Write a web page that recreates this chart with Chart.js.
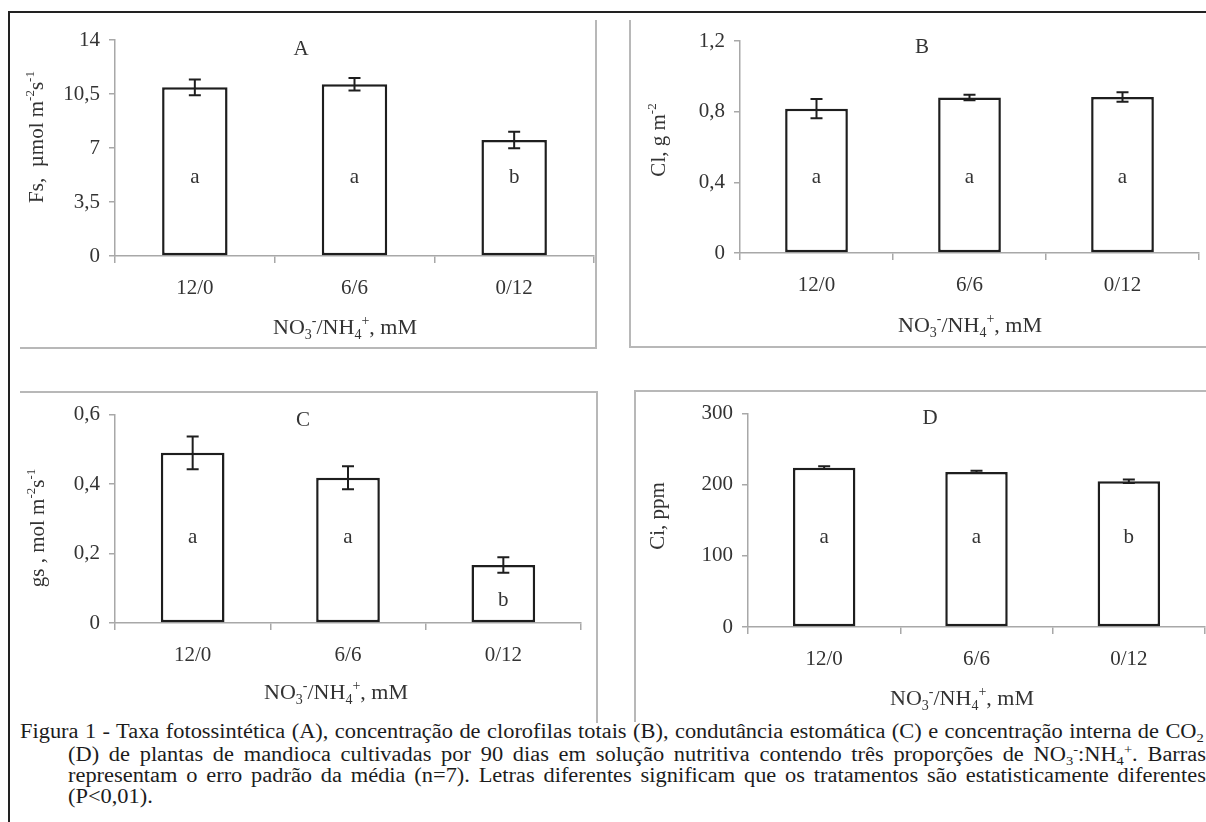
<!DOCTYPE html>
<html>
<head>
<meta charset="utf-8">
<script src="https://cdn.jsdelivr.net/npm/chart.js@4.4.0/dist/chart.umd.min.js"></script>
<style>
html, body { margin: 0; padding: 0; background: #fff; overflow: hidden; }
body { width: 1206px; height: 822px; position: relative; font-family: "Liberation Serif", "Times New Roman", serif; }
#frame { position: absolute; left: 8px; top: 11px; width: 1300px; height: 900px; border-top: 2px solid #222; border-left: 2px solid #222; }
.box { position: absolute; border: 0 solid #b8b8b8; }
canvas { position: absolute; }
.cap { position: absolute; font-size: 20px; line-height: 21.5px; color: #1c1c1c; text-align: justify; text-align-last: justify; white-space: nowrap; transform: scaleX(1.12); transform-origin: 0 0; }
.cap.last { text-align-last: left; }
.cap sub, .cap sup { font-size: 13px; line-height: 0; }
.cap sub { vertical-align: -4px; }
.cap sup { vertical-align: 7px; }
</style>
</head>
<body>
<div id="frame"></div>
<div class="box" style="left:20px;top:20px;width:575px;height:327px;border-right-width:2px;border-bottom-width:2px;"></div>
<div class="box" style="left:629px;top:20px;width:600px;height:326px;border-left-width:2px;border-bottom-width:2px;"></div>
<div class="box" style="left:20px;top:391px;width:576px;height:330px;border-top-width:2px;border-right-width:2px;"></div>
<div class="box" style="left:634px;top:390px;width:600px;height:330px;border-top-width:2px;border-left-width:2px;"></div>

<div class="cap" style="left:20px;top:721px;width:1057px;">Figura 1 - Taxa fotossintética (A), concentração de clorofilas totais (B), condutância estomática (C) e concentração interna de CO<sub>2</sub></div>
<div class="cap" style="left:68px;top:744px;width:1016px;">(D) de plantas de mandioca cultivadas por 90 dias em solução nutritiva contendo três proporções de NO<sub>3</sub><sup>-</sup>:NH<sub>4</sub><sup>+</sup>. Barras</div>
<div class="cap" style="left:68px;top:765px;width:1016px;">representam o erro padrão da média (n=7). Letras diferentes significam que os tratamentos são estatisticamente diferentes</div>
<div class="cap last" style="left:68px;top:786px;width:1016px;">(P&lt;0,01).</div>

<script>
// categories (NO3-/NH4+ ratio, mM)
const categories = ['12/0', '6/6', '0/12'];

// A - Fs, photosynthetic rate
const fsValues = [10.93, 11.13, 7.52];
const fsErrors = [0.51, 0.40, 0.53];
const fsLetters = ['a', 'a', 'b'];
const fsTicks = [0, 3.5, 7, 10.5, 14];

// B - Cl, total chlorophyll
const clValues = [0.817, 0.880, 0.883];
const clErrors = [0.054, 0.016, 0.027];
const clLetters = ['a', 'a', 'a'];
const clTicks = [0, 0.4, 0.8, 1.2];

// C - gs, stomatal conductance
const gsValues = [0.490, 0.418, 0.167];
const gsErrors = [0.047, 0.033, 0.022];
const gsLetters = ['a', 'a', 'b'];
const gsTicks = [0, 0.2, 0.4, 0.6];

// D - Ci, internal CO2
const ciValues = [224, 218, 205];
const ciErrors = [2, 1.5, 2.5];
const ciLetters = ['a', 'a', 'b'];
const ciTicks = [0, 100, 200, 300];

const FONT = '"Liberation Serif", "Times New Roman", serif';
const TEXT = '#333';
const AXIS = '#a8a8a8';

const xTitle = [['NO', 0], ['3', -1], ['-', 1], ['/NH', 0], ['4', -1], ['+', 1], [', mM', 0]];

const panels = [
    { values: fsValues, errors: fsErrors, letters: fsLetters, ticks: fsTicks,
      box: [10, 14, 586, 334], area: [115, 40, 594, 256], letterAt: [5.12, 5.12, 5.12],
      tag: ['A', 301, 49], yTitle: [['Fs,  µmol m', 0], ['-2', 1], ['s', 0], ['-1', 1]],
      yPos: [36, 137], xPos: [345, 327] },
    { values: clValues, errors: clErrors, letters: clLetters, ticks: clTicks,
      box: [631, 14, 575, 333], area: [740, 41, 1199, 253], letterAt: [0.43, 0.43, 0.43],
      tag: ['B', 922, 47], yTitle: [['Cl, g m', 0], ['-2', 1]],
      yPos: [658, 140], xPos: [970, 325] },
    { values: gsValues, errors: gsErrors, letters: gsLetters, ticks: gsTicks,
      box: [10, 393, 586, 319], area: [115, 412, 581, 623], letterAt: [0.247, 0.247, 0.065],
      tag: ['C', 303, 420], yTitle: [['gs , mol m', 0], ['-2', 1], ['s', 0], ['-1', 1]],
      yPos: [37, 528], xPos: [336, 692] },
    { values: ciValues, errors: ciErrors, letters: ciLetters, ticks: ciTicks,
      box: [636, 392, 570, 320], area: [748, 412, 1205, 627], letterAt: [126.5, 126.5, 126.5],
      tag: ['D', 930, 418], yTitle: [['Ci, ppm', 0]],
      yPos: [657, 516], xPos: [962, 698] }
];

// text with sub/superscripts, centred on (cx, cy)
function richText(ctx, parts, cx, cy, size, angle) {
    const small = Math.round(size * 0.64);
    ctx.save();
    ctx.translate(cx, cy);
    ctx.rotate(angle);
    ctx.textAlign = 'left';
    ctx.textBaseline = 'alphabetic';
    ctx.fillStyle = TEXT;
    let w = 0;
    parts.forEach(([t, k]) => {
        ctx.font = (k ? small : size) + 'px ' + FONT;
        w += ctx.measureText(t).width;
    });
    let x = -w / 2;
    parts.forEach(([t, k]) => {
        ctx.font = (k ? small : size) + 'px ' + FONT;
        const dy = k === 1 ? -size * 0.42 : (k === -1 ? size * 0.22 : 0);
        ctx.fillText(t, x, size * 0.33 + dy);
        x += ctx.measureText(t).width;
    });
    ctx.restore();
}

function makeChart(p) {
    const [bx, by, bw, bh] = p.box;
    const [L, T, R, B] = p.area;
    const cv = document.createElement('canvas');
    cv.width = bw;
    cv.height = bh;
    cv.style.left = bx + 'px';
    cv.style.top = by + 'px';
    cv.style.width = bw + 'px';
    cv.style.height = bh + 'px';
    document.body.appendChild(cv);

    const decor = {
        id: 'decor',
        afterDatasetsDraw(chart) {
            const ctx = chart.ctx;
            const ys = chart.scales.y;
            const meta = chart.getDatasetMeta(0);
            ctx.save();
            ctx.strokeStyle = '#1e1e1e';
            ctx.lineWidth = 2;
            meta.data.forEach((bar, i) => {
                const v = p.values[i], e = p.errors[i];
                const yt = ys.getPixelForValue(v + e);
                const yb = ys.getPixelForValue(v - e);
                ctx.beginPath();
                ctx.moveTo(bar.x, yt); ctx.lineTo(bar.x, yb);
                ctx.moveTo(bar.x - 6, yt); ctx.lineTo(bar.x + 6, yt);
                ctx.moveTo(bar.x - 6, yb); ctx.lineTo(bar.x + 6, yb);
                ctx.stroke();
                ctx.fillStyle = TEXT;
                ctx.font = '21px ' + FONT;
                ctx.textAlign = 'center';
                ctx.textBaseline = 'middle';
                ctx.fillText(p.letters[i], bar.x, ys.getPixelForValue(p.letterAt[i]));
            });
            ctx.restore();
        },
        afterDraw(chart) {
            const ctx = chart.ctx;
            ctx.save();
            ctx.fillStyle = TEXT;
            ctx.font = '21px ' + FONT;
            ctx.textAlign = 'center';
            ctx.textBaseline = 'middle';
            ctx.fillText(p.tag[0], p.tag[1] - bx, p.tag[2] - by);
            ctx.restore();
            richText(ctx, p.yTitle, p.yPos[0] - bx, p.yPos[1] - by, 21, -Math.PI / 2);
            richText(ctx, xTitle, p.xPos[0] - bx, p.xPos[1] - by, 22, 0);
        }
    };

    return new Chart(cv.getContext('2d'), {
        type: 'bar',
        data: {
            labels: categories,
            datasets: [{
                data: p.values,
                backgroundColor: '#fff',
                borderColor: '#1e1e1e',
                borderWidth: 2.5,
                borderSkipped: false,
                barPercentage: 0.41,
                categoryPercentage: 1
            }]
        },
        options: {
            responsive: false,
            animation: false,
            devicePixelRatio: 1,
            layout: { padding: { left: 0, top: T - by, right: bx + bw - R, bottom: 0 } },
            plugins: { legend: { display: false }, tooltip: { enabled: false } },
            scales: {
                x: {
                    offset: true,
                    grid: { offset: true, drawOnChartArea: false, tickLength: 7, color: AXIS, lineWidth: 1.5 },
                    border: { color: AXIS, width: 1.5 },
                    ticks: { font: { family: FONT, size: 21 }, color: TEXT, padding: 13 },
                    afterFit(s) { s.height = by + bh - B; }
                },
                y: {
                    min: 0,
                    max: p.ticks[p.ticks.length - 1],
                    afterBuildTicks(s) { s.ticks = p.ticks.map(v => ({ value: v })); },
                    grid: { drawOnChartArea: false, tickLength: 6, color: AXIS, lineWidth: 1.5 },
                    border: { color: AXIS, width: 1.5 },
                    ticks: {
                        font: { family: FONT, size: 21 },
                        color: TEXT,
                        padding: 9,
                        callback: v => String(v).replace('.', ',')
                    },
                    afterFit(s) { s.width = L - bx; }
                }
            }
        },
        plugins: [decor]
    });
}

panels.forEach(makeChart);
</script>
</body>
</html>
